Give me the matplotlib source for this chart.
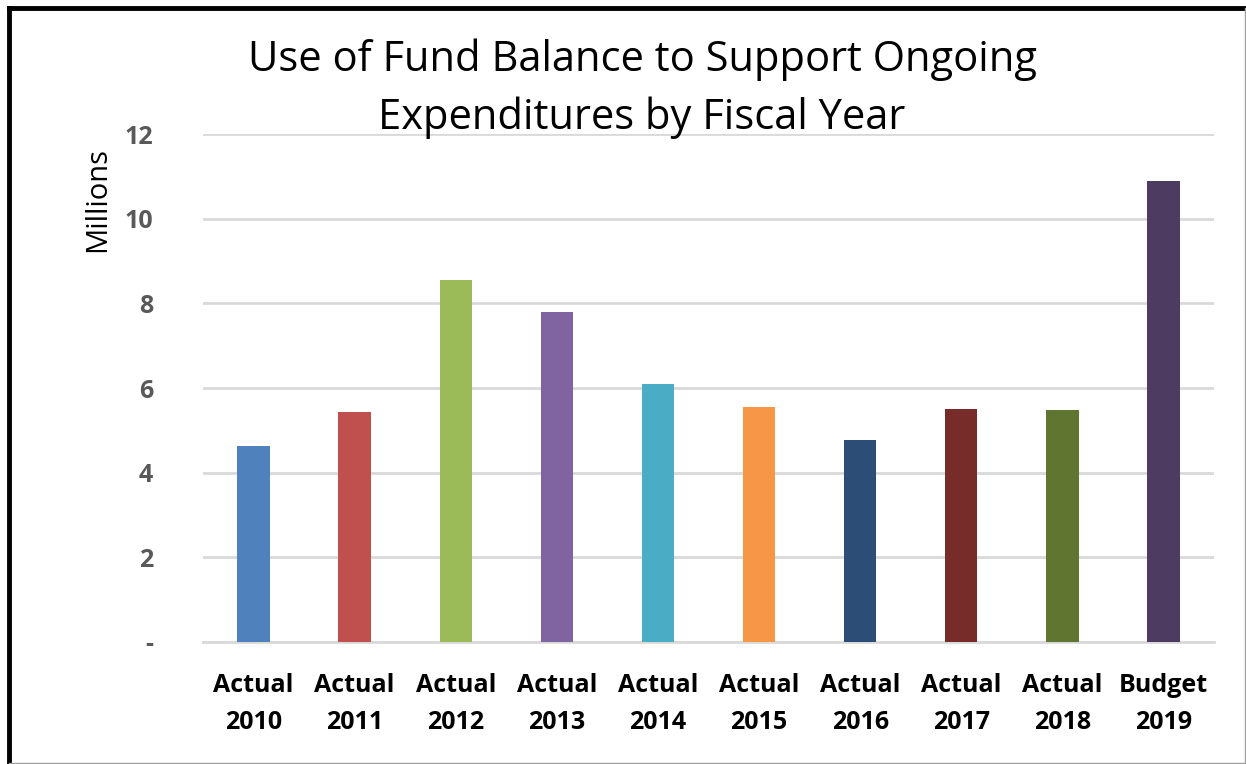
import matplotlib.pyplot as plt
from matplotlib.lines import Line2D

years = ['Actual\n2010', 'Actual\n2011', 'Actual\n2012', 'Actual\n2013', 'Actual\n2014',
         'Actual\n2015', 'Actual\n2016', 'Actual\n2017', 'Actual\n2018', 'Budget\n2019']
values = [4.63, 5.43, 8.55, 7.80, 6.09, 5.55, 4.77, 5.50, 5.48, 10.89]
colors = ['#4F81BD', '#C0504D', '#9BBB59', '#8064A2', '#4BACC6',
          '#F79646', '#2C4D75', '#772C2A', '#5F7530', '#4D3B62']
yticks = [0, 2, 4, 6, 8, 10, 12]
ytick_labels = ['-', '2', '4', '6', '8', '10', '12']

plt.rcParams['font.family'] = ['Open Sans', 'DejaVu Sans']

W, H = 1246, 764
fig = plt.figure(figsize=(W / 100, H / 100), dpi=100)
ax = fig.add_axes([203 / W, 1 - 642 / H, (1214 - 203) / W, (642 - 134) / H])

x = list(range(len(years)))
ax.bar(x, values, width=0.32, color=colors, zorder=3)

ax.set_xlim(-0.5, len(years) - 0.5)
ax.set_ylim(0, 12)
ax.set_yticks(yticks)
ax.set_yticklabels(ytick_labels, fontsize=18, fontweight='bold', color='#595959')
ax.set_xticks(x)
ax.set_xticklabels(years, fontsize=18, fontweight='bold', color='black', linespacing=1.65)
ax.tick_params(axis='both', length=0)
ax.tick_params(axis='y', pad=36)
ax.tick_params(axis='x', pad=22)
ax.grid(axis='y', color='#D9D9D9', linewidth=2, zorder=0)
for s in ['top', 'right', 'left']:
    ax.spines[s].set_visible(False)
ax.spines['bottom'].set_color('#D9D9D9')
ax.spines['bottom'].set_linewidth(2)

fig.text(98 / W, 1 - 200 / H, 'Millions', rotation=90, ha='center', va='center', fontsize=21)
fig.text(642 / W, 1 - 60 / H, 'Use of Fund Balance to Support Ongoing',
         ha='center', va='center', fontsize=30)
fig.text(642 / W, 1 - 118 / H, 'Expenditures by Fiscal Year',
         ha='center', va='center', fontsize=30)

# screenshot border
fig.add_artist(Line2D([9 / W, 1], [1 - 8 / H, 1 - 8 / H], color='black', linewidth=3.5,
                      transform=fig.transFigure))
fig.add_artist(Line2D([9 / W, 9 / W], [0, 1 - 8 / H], color='black', linewidth=3.5,
                      transform=fig.transFigure))
fig.add_artist(Line2D([1244.5 / W, 1244.5 / W], [0, 1 - 8 / H], color='#A0A0A0', linewidth=1,
                      transform=fig.transFigure))
fig.add_artist(Line2D([9 / W, 1], [1.5 / H, 1.5 / H], color='#A0A0A0', linewidth=1,
                      transform=fig.transFigure))

fig.savefig('out.png', dpi=100)
